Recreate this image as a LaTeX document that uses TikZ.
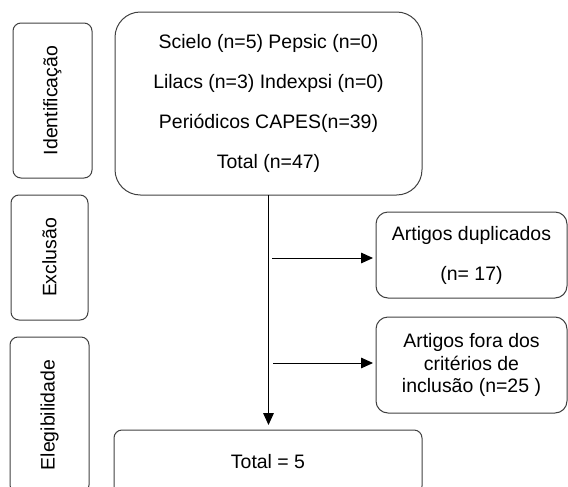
\documentclass[tikz,border=0pt]{standalone}
\usepackage{fontspec}
\setmainfont{Liberation Sans}
\usetikzlibrary{arrows.meta}

\tikzset{
	caixa/.style={draw=black!75, line width=0.75pt, inner sep=0pt, outer sep=0pt,
		align=center, font=\fontsize{14.6pt}{17.5pt}\selectfont},
	etapa/.style={caixa, rounded corners=6pt, rotate=90},
	seta/.style={-{Triangle[length=9pt, width=8pt]}, line width=0.75pt}
}

\begin{document}
\begin{tikzpicture}[x=0.75pt, y=-0.75pt]
			\clip (0,0) rectangle (568,486);
			
			% etapas
			\node [etapa, minimum width=116.25pt, minimum height=59.25pt] (ident) at (52.5,100.5) {Identificação};
			\node [etapa, minimum width=93.75pt, minimum height=57.75pt] (excl) at (49.5,257.5) {Exclusão};
			\node [etapa, minimum width=117pt, minimum height=59.25pt] (eleg) at (49.5,415) {Elegibilidade};
			
			\node [caixa, rounded corners=19pt, minimum width=230.25pt, minimum height=137.25pt,
				font=\fontsize{14.6pt}{29.8pt}\selectfont] (bases) at (268.5,103.5)
				{Scielo (n=5) Pepsic (n=0)\\ Lilacs (n=3) Indexpsi (n=0)\\ Periódicos CAPES(n=39)\\ Total (n=47)};
			\node [caixa, rounded corners=9pt, minimum width=143.25pt, minimum height=64.5pt,
				font=\fontsize{14.6pt}{30pt}\selectfont] (dup) at (471.5,255)
				{Artigos duplicados\\ (n= 17)};
			\node [caixa, rounded corners=9pt, minimum width=143.25pt, minimum height=72pt,
				font=\fontsize{14.6pt}{16.9pt}\selectfont] (fora) at (471.5,365)
				{Artigos fora dos\\ critérios de\\ inclusão (n=25 )};
			\node [caixa, rounded corners=6pt, minimum width=231pt, minimum height=48pt] (total) at (268,462) {Total = 5};
			
			\coordinate (j1) at (272,258);
			\coordinate (j2) at (273,363);
			
			\draw [seta, shorten >=3.75pt] (bases.south) -- (bases.south |- total.north);
			\draw [seta, shorten >=2.25pt] (j1) -- (j1 -| dup.west);
			\draw [seta, shorten >=2.25pt] (j2) -- (j2 -| fora.west);
		\end{tikzpicture}
\end{document}
